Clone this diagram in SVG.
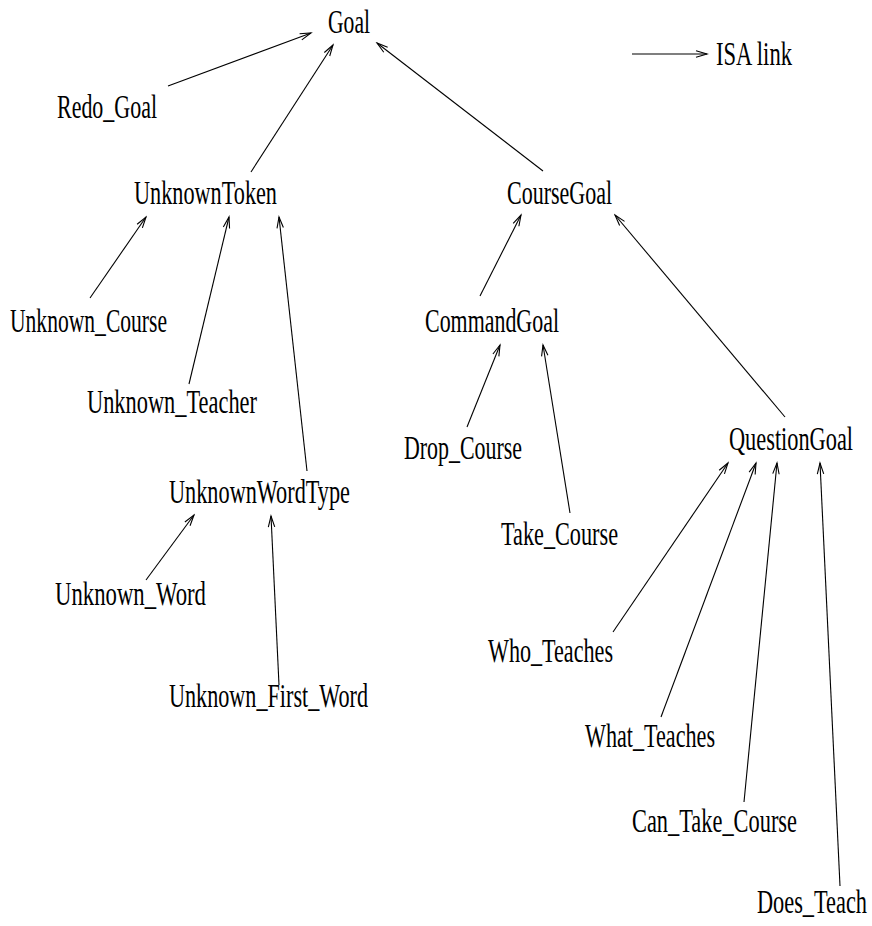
<svg xmlns="http://www.w3.org/2000/svg" width="872" height="926" viewBox="0 0 872 926">
  <style>
    text { font-family: "Liberation Serif", "Times New Roman", serif; font-size: 33px; fill: #000; }
    .isa { stroke: #000; stroke-width: 1.1; fill: none; marker-end: url(#open); }
  </style>
  <defs>
    <marker id="open" markerUnits="userSpaceOnUse" markerWidth="14" markerHeight="10" viewBox="-12 -5 14 10" refX="0" refY="0" orient="auto">
      <path d="M-11,-3.2 L0,0 L-11,3.2" fill="none" stroke="#000" stroke-width="1.1"/>
    </marker>
  </defs>
  <rect width="872" height="926" fill="#fff"/>

  <!-- ISA links: child to parent -->
  <g id="connectors">
    <line class="isa" x1="168" y1="86" x2="311" y2="33"/>
    <line class="isa" x1="251" y1="172" x2="333" y2="45"/>
    <line class="isa" x1="543" y1="171" x2="377" y2="43"/>
    <line class="isa" x1="90" y1="298" x2="146" y2="217"/>
    <line class="isa" x1="189" y1="384" x2="229" y2="217"/>
    <line class="isa" x1="307" y1="471" x2="279" y2="217"/>
    <line class="isa" x1="146" y1="580" x2="194" y2="515"/>
    <line class="isa" x1="279" y1="685" x2="271" y2="516"/>
    <line class="isa" x1="480" y1="296" x2="521" y2="215"/>
    <line class="isa" x1="785" y1="417" x2="615" y2="215"/>
    <line class="isa" x1="467" y1="427" x2="500" y2="345"/>
    <line class="isa" x1="570" y1="513" x2="543" y2="345"/>
    <line class="isa" x1="613" y1="632" x2="728" y2="463"/>
    <line class="isa" x1="661" y1="717" x2="756" y2="463"/>
    <line class="isa" x1="744" y1="802" x2="777" y2="463"/>
    <line class="isa" x1="840" y1="886" x2="820" y2="463"/>
  </g>

  <!-- legend -->
  <g id="legend">
    <line class="isa" x1="632" y1="54" x2="707" y2="54"/>
    <text x="716" y="65" textLength="76" lengthAdjust="spacingAndGlyphs">ISA link</text>
  </g>

  <g id="goal"><text x="328" y="33" textLength="42" lengthAdjust="spacingAndGlyphs">Goal</text></g>
  <g id="redo-goal"><text x="57" y="118" textLength="100" lengthAdjust="spacingAndGlyphs">Redo_Goal</text></g>
  <g id="unknown-token"><text x="134" y="204" textLength="143" lengthAdjust="spacingAndGlyphs">UnknownToken</text></g>
  <g id="course-goal"><text x="507" y="204" textLength="105" lengthAdjust="spacingAndGlyphs">CourseGoal</text></g>
  <g id="unknown-course"><text x="10" y="332" textLength="157" lengthAdjust="spacingAndGlyphs">Unknown_Course</text></g>
  <g id="command-goal"><text x="425" y="332" textLength="134" lengthAdjust="spacingAndGlyphs">CommandGoal</text></g>
  <g id="unknown-teacher"><text x="87" y="413" textLength="170" lengthAdjust="spacingAndGlyphs">Unknown_Teacher</text></g>
  <g id="question-goal"><text x="729" y="450" textLength="124" lengthAdjust="spacingAndGlyphs">QuestionGoal</text></g>
  <g id="drop-course"><text x="404" y="459" textLength="118" lengthAdjust="spacingAndGlyphs">Drop_Course</text></g>
  <g id="unknown-word-type"><text x="169" y="503" textLength="181" lengthAdjust="spacingAndGlyphs">UnknownWordType</text></g>
  <g id="take-course"><text x="501" y="545" textLength="117" lengthAdjust="spacingAndGlyphs">Take_Course</text></g>
  <g id="unknown-word"><text x="55" y="605" textLength="151" lengthAdjust="spacingAndGlyphs">Unknown_Word</text></g>
  <g id="who-teaches"><text x="488" y="662" textLength="125" lengthAdjust="spacingAndGlyphs">Who_Teaches</text></g>
  <g id="unknown-first-word"><text x="169" y="707" textLength="199" lengthAdjust="spacingAndGlyphs">Unknown_First_Word</text></g>
  <g id="what-teaches"><text x="585" y="747" textLength="130" lengthAdjust="spacingAndGlyphs">What_Teaches</text></g>
  <g id="can-take-course"><text x="632" y="832" textLength="165" lengthAdjust="spacingAndGlyphs">Can_Take_Course</text></g>
  <g id="does-teach"><text x="757" y="913" textLength="110" lengthAdjust="spacingAndGlyphs">Does_Teach</text></g>
</svg>
